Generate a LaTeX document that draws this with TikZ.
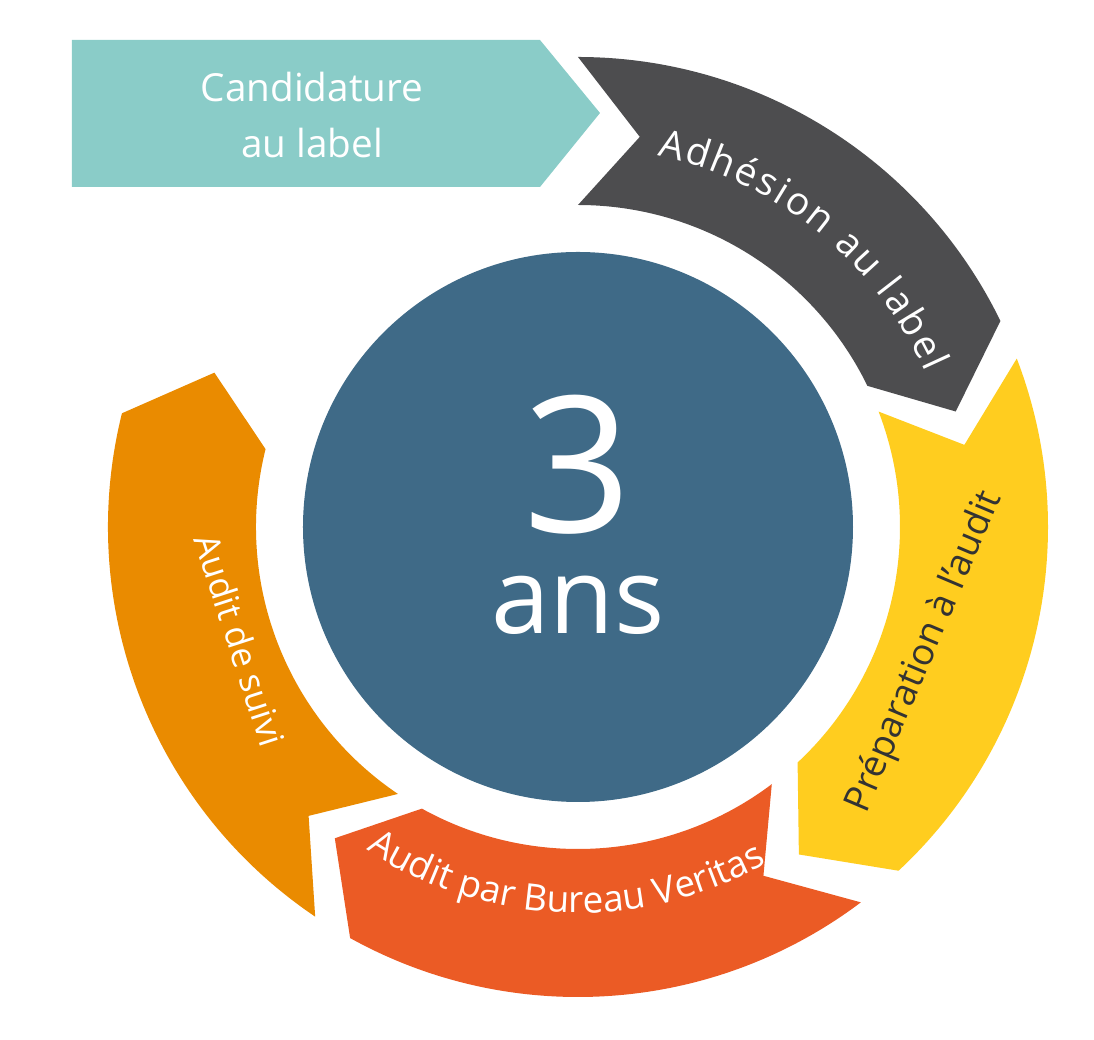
\documentclass[tikz,border=0pt]{standalone}
\usepackage{fontspec}
\setmainfont{Open Sans}
\usetikzlibrary{positioning, calc, decorations.text}

\definecolor{cyclegray}{HTML}{4D4D4F}
\definecolor{cycleyellow}{HTML}{FFCD1F}
\definecolor{cyclered}{HTML}{EB5B25}
\definecolor{cycleorange}{HTML}{EA8B00}
\definecolor{cycleteal}{HTML}{8ACCC8}
\definecolor{cycleblue}{HTML}{3F6A87}
\definecolor{darktext}{HTML}{333333}

% ring segment: colour, tail angle, head angle (clockwise)
\newcommand{\ringseg}[3]{%
  \fill[#1] (#2:4.7) arc[start angle=#2, end angle=#3, radius=4.7]
    -- ({#3-9}:3.95) -- (#3:3.22) arc[start angle=#3, end angle=#2, radius=3.22]
    -- ({#2-9}:3.95) -- cycle;}

\tikzset{
  seglabel/.style={font=\fontsize{10.5}{12}\selectfont, align=center},
}

\begin{document}
\begin{tikzpicture}
        \useasboundingbox (-5.78,-5.13) rectangle (5.16,5.27);

        % Ring
        \ringseg{cyclegray}{90}{26}
        \ringseg{cycleyellow}{21}{-47}
        \ringseg{cyclered}{-53}{-119}
        \ringseg{cycleorange}{-124}{-194}

        % Entry arrow
        \fill[cycleteal] (-5.06,4.87) -- (-0.38,4.87) -- (0.22,4.14) -- (-0.38,3.40) -- (-5.06,3.40) -- cycle;
        \node[seglabel, text=white, font=\fontsize{11}{16}\selectfont] (candidature) at (-2.66,4.12) {Candidature\\au label};

        % Centre
        \node[circle, fill=cycleblue, minimum size=5.5cm] (centre) at (0,0) {};
        \node[text=white, font=\fontsize{54}{54}\selectfont] (three) at (0,0.62) {3};
        \node[text=white, font=\fontsize{30}{30}\selectfont] (ans) at (0,-0.78) {ans};

        % Labels
        \path[decorate, decoration={text along path, text align=fit to path,
            text={|\fontsize{11}{11}\selectfont\color{white}|Adhésion au label}}]
            (78:3.8) arc[start angle=78, end angle=24, radius=3.8];
        \node[seglabel, text=darktext, rotate=67] (preparation) at (3.47,-1.25) {Préparation à l’audit};
        \path[decorate, decoration={text along path, text align=center,
            text={|\fontsize{10.5}{10.5}\selectfont\color{white}|Audit par Bureau Veritas}}]
            (-128:3.86) arc[start angle=-128, end angle=-56, radius=3.86];
        \node[seglabel, text=white, rotate=-72, font=\fontsize{10}{12}\selectfont] (suivi) at (-3.38,-1.13) {Audit de suivi};
    \end{tikzpicture}
\end{document}
